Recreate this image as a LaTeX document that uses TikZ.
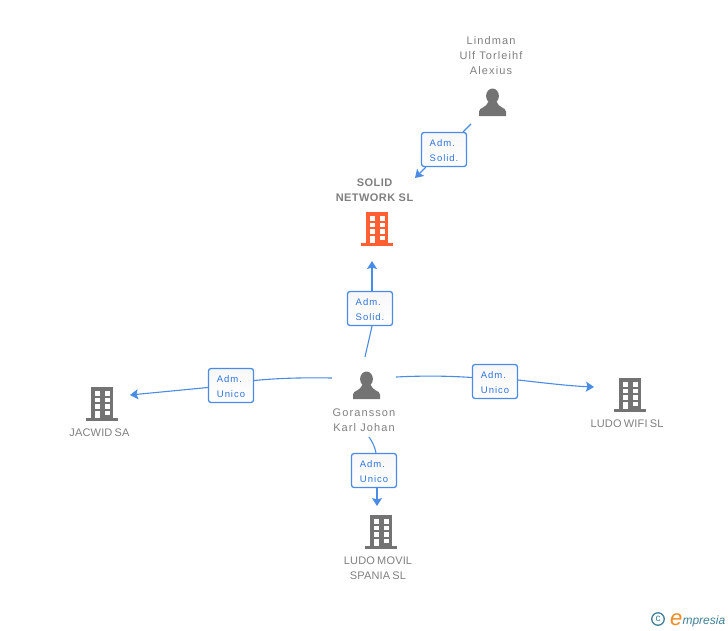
\documentclass[tikz,border=0pt]{standalone}
\usepackage{fontspec}
\setmainfont{Liberation Sans}
\newfontfamily\namefont[LetterSpace=10,WordSpace=0.4]{Liberation Sans}
\newfontfamily\capfont[LetterSpace=1.5,WordSpace=0.7]{Liberation Sans}
\newfontfamily\mainfont[LetterSpace=4,BoldFont={Liberation Sans Bold}]{Liberation Sans}
\newfontfamily\tagfont[LetterSpace=10]{Liberation Sans}
\newcommand\tagup{\rule{0pt}{9pt}}
\usetikzlibrary{calc,arrows.meta}
\definecolor{iconorange}{HTML}{FF5F33}
\definecolor{icongrey}{HTML}{737373}
\definecolor{txtgrey}{HTML}{808080}
\definecolor{linkblue}{HTML}{4A8BE6}
\definecolor{labelblue}{HTML}{2F74DC}
\definecolor{logoteal}{HTML}{3F8296}
\definecolor{logoorange}{HTML}{F28A1E}
\tikzset{
  x=1pt,y=-1pt,
  name text/.style={text=txtgrey,align=center,inner sep=0pt,
    font=\namefont\fontsize{11}{15}\selectfont},
  cap text/.style={text=txtgrey,align=center,inner sep=0pt,
    font=\capfont\fontsize{11}{15}\selectfont},
  main text/.style={text=txtgrey,align=center,inner sep=0pt,
    font=\mainfont\bfseries\fontsize{11}{15}\selectfont},
  tag/.style={draw=linkblue,line width=1.3pt,rounded corners=2.5pt,top color=white!97!black,bottom color=white,
    minimum width=45pt,minimum height=34pt,inner sep=0pt,text=labelblue,align=left,
    font=\tagfont\fontsize{9.5}{15}\selectfont},
  zone/.style={inner sep=0pt,outer sep=0pt},
  link/.style={draw=linkblue,line width=1.1pt},
  tiplink/.style={link,-{Stealth[length=8pt,width=10pt,inset=1.5pt]}},
  pics/building/.style={code={
    \fill[#1] (-16,31) rectangle (16,34);
    \fill[#1] (-11,0) rectangle (11,31);
    \foreach \wx in {-7.5,2.5}{
      \foreach \wy in {4,10.5,17}{
        \fill[white] (\wx,\wy) rectangle ++(5,4.5);
      }
    }
    \fill[white] (-7.5,23.5) rectangle ++(5,7.5);
    \fill[white] (2.5,23.5) rectangle ++(5,4.5);
  }},
  pics/person/.style={code={
    \fill[icongrey] (0,-0.5) circle[x radius=6.4,y radius=7.5];
    \fill[icongrey] (-13.5,19.5) -- (-13.5,15) .. controls (-13.5,11) and (-6,11.5) .. (-4,5)
      -- (4,5) .. controls (6,11.5) and (13.5,11) .. (13.5,15) -- (13.5,19.5) -- cycle;
  }}
}
\begin{document}
\begin{tikzpicture}
\useasboundingbox (0,0) rectangle (728,630);
\fill[white] (0,0) rectangle (728,630);

% invisible zones around each party; connectors end on their borders
\node[zone,minimum width=64pt,minimum height=80pt] (goransson) at (364,397) {};
\node[zone,minimum width=40pt,minimum height=40pt] (lindman) at (491,104) {};
\node[zone,minimum width=70pt,minimum height=50pt] (solid) at (372,236) {};
\node[zone,minimum width=40pt,minimum height=40pt] (jacwid) at (110,403) {};
\node[zone,minimum width=70pt,minimum height=40pt] (wifi) at (629,395) {};
\node[zone,minimum width=50pt,minimum height=40pt] (movil) at (377,526) {};

% icons
\pic at (377,212) {building=iconorange};
\pic at (102,387) {building=icongrey};
\pic at (630,378) {building=icongrey};
\pic at (381,515) {building=icongrey};
\pic at (492.5,96.5) {person};
\pic at (366.5,379.5) {person};

% texts
\node[name text] (tlindman) at (491,55.2) {Lindman\\Ulf Torleihf\\Alexius};
\node[main text] (tsolid) at (374.5,190.7) {SOLID\\NETWORK SL};
\node[name text] (tgoransson) at (364,420.7) {Goransson\\Karl Johan};
\node[cap text] (tjacwid) at (99.5,433.2) {JACWID SA};
\node[cap text] (twifi) at (627,424.2) {LUDO WIFI SL};
\node[cap text] (tmovil) at (378,568.7) {LUDO MOVIL\\SPANIA SL};

% labels
\node[tag] (b1) at (444,149.5) {\tagup Adm.\\Solid.};
\node[tag] (b2) at (370,308.5) {\tagup Adm.\\Solid.};
\node[tag] (b3) at (495,381.5) {\tagup Adm.\\Unico};
\node[tag] (b4) at (231,385.5) {\tagup Adm.\\Unico};
\node[tag] (b5) at (374,470.5) {\tagup Adm.\\Unico};

% connectors
\draw[link] ($(lindman.south)+(-20,0)$) -- ($(b1.north east)+(-4,0)$);
\draw[tiplink] ($(b1.south west)+(5,0)$) -- ($(solid.north)+(43,-33)$);
\draw[link] ($(goransson.north)+(1,0)$) -- ($(b2.south)+(2,0)$);
\draw[tiplink] ($(b2.north)+(2,0)$) -- (solid.south);
\draw[link] ($(goransson.east)+(0,-20)$) .. controls (425,375.5) and (450,376) .. ($(b3.west)+(0,-4)$);
\draw[tiplink] ($(b3.east)+(0,-1.5)$) .. controls (545,383) and (570,386) .. ($(wifi.west)+(0,-8)$);
\draw[link] ($(goransson.west)+(0,-19)$) .. controls (305,377.5) and (280,378) .. ($(b4.east)+(0,-5)$);
\draw[tiplink] ($(b4.west)+(0,2)$) -- ($(jacwid.east)+(0,-8)$);
\draw[link] ($(goransson.south)+(5,0)$) .. controls (372,441) and (375,447) .. ($(b5.north)+(2,0)$);
\draw[tiplink] ($(b5.south)+(3,0)$) -- (movil.north);

% logo
\node[zone,circle,draw=logoteal,line width=1.3pt,minimum size=12.5pt,text=logoteal,font=\fontsize{10}{10}\selectfont] (copy) at (658,619) {c};
\node[zone,text=logoorange,font=\fontsize{22}{22}\selectfont\itshape,anchor=base west] (loge) at (670,625) {e};
\node[zone,text=logoteal,font=\fontsize{12}{12}\selectfont\itshape,anchor=base west] (logt) at (682.5,624) {mpresia};
\end{tikzpicture}
\end{document}
